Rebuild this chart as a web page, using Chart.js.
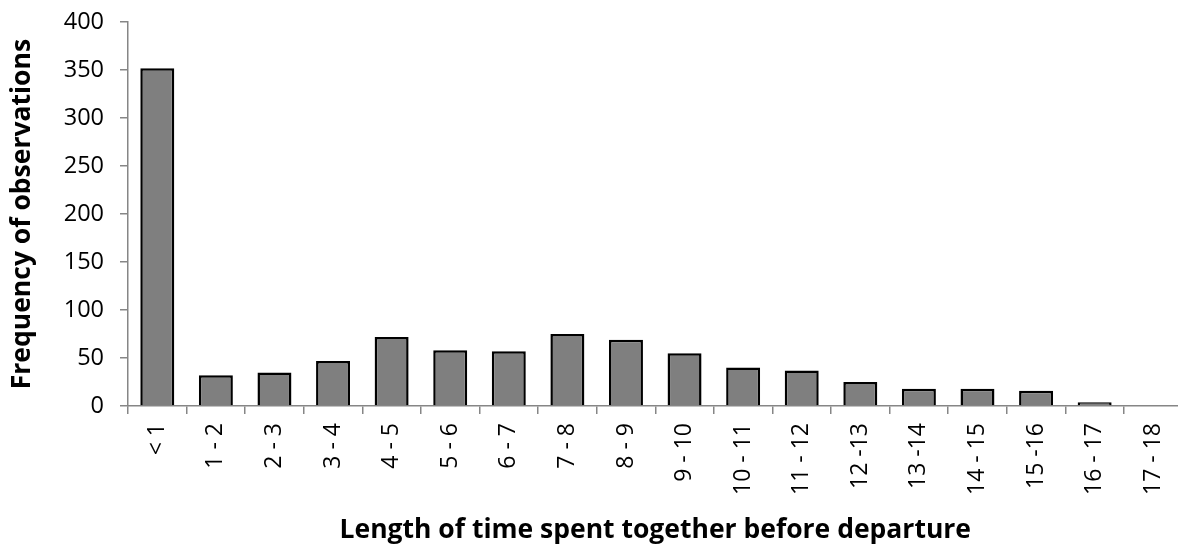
<!DOCTYPE html>
<html>
<head>
<meta charset="utf-8">
<script src="https://cdn.jsdelivr.net/npm/chart.js@4"></script>
<style>
  html, body { margin: 0; padding: 0; background: #fff; overflow: hidden; }
  #wrap { width: 1190px; height: 556px; margin-top: -8px; position: relative; }
</style>
</head>
<body>
<div id="wrap"><canvas id="chart"></canvas></div>
<script>
// Time classes (hours together before departure)
const categories = ['< 1', '1 - 2', '2 - 3', '3 - 4', '4 - 5', '5 - 6', '6 - 7', '7 - 8', '8 - 9',
  '9 - 10', '10 - 11', '11 - 12', '12 -13', '13 -14', '14 - 15', '15 -16', '16 - 17', '17 - 18'];
// Number of observations in each class
const frequencies = [352, 32, 35, 47, 72, 58, 57, 75, 69, 55, 40, 37, 25, 18, 18, 16, 4, 0];
// Value axis
const yTicks = [0, 50, 100, 150, 200, 250, 300, 350, 400];

const xTitle = 'Length of time spent together before departure';
const yTitle = 'Frequency of observations';

const FONT = "'Open Sans', 'Liberation Sans', sans-serif";
const AXIS = '#868686';

new Chart(document.getElementById('chart'), {
  type: 'bar',
  data: {
    labels: categories,
    datasets: [{
      data: frequencies,
      backgroundColor: '#7f7f7f',
      borderColor: '#000000',
      borderWidth: 2.5,
      borderSkipped: 'bottom',
      barPercentage: 0.58,
      categoryPercentage: 1
    }]
  },
  options: {
    responsive: true,
    maintainAspectRatio: false,
    animation: false,
    layout: { padding: { top: 13, right: 6, bottom: 0, left: 0 } },
    plugins: { legend: { display: false }, tooltip: { enabled: false } },
    scales: {
      x: {
        offset: true,
        border: { color: AXIS, width: 1.5 },
        grid: { offset: true, drawOnChartArea: false, color: AXIS, lineWidth: 1.5, tickLength: 8 },
        ticks: {
          minRotation: 90, maxRotation: 90, autoSkip: false, padding: 9,
          color: '#000', font: { family: FONT, size: 23 }
        },
        title: {
          display: true, text: xTitle, color: '#000',
          font: { family: FONT, size: 26.5, weight: 'bold' },
          padding: { top: 2, bottom: 2 }
        },
        afterFit: s => { s.height = 142; }
      },
      y: {
        min: 0, max: 400,
        afterBuildTicks: s => { s.ticks = yTicks.map(v => ({ value: v })); },
        border: { color: AXIS, width: 1.5 },
        grid: { drawOnChartArea: false, color: AXIS, lineWidth: 1.5, tickLength: 8 },
        ticks: { padding: 16, color: '#000', font: { family: FONT, size: 23.5 } },
        title: {
          display: true, text: yTitle, color: '#000',
          font: { family: FONT, size: 26.5, weight: 'bold' },
          padding: { top: 7, bottom: 7 }
        },
        afterFit: s => { s.width = 128; }
      }
    }
  }
});
</script>
</body>
</html>
